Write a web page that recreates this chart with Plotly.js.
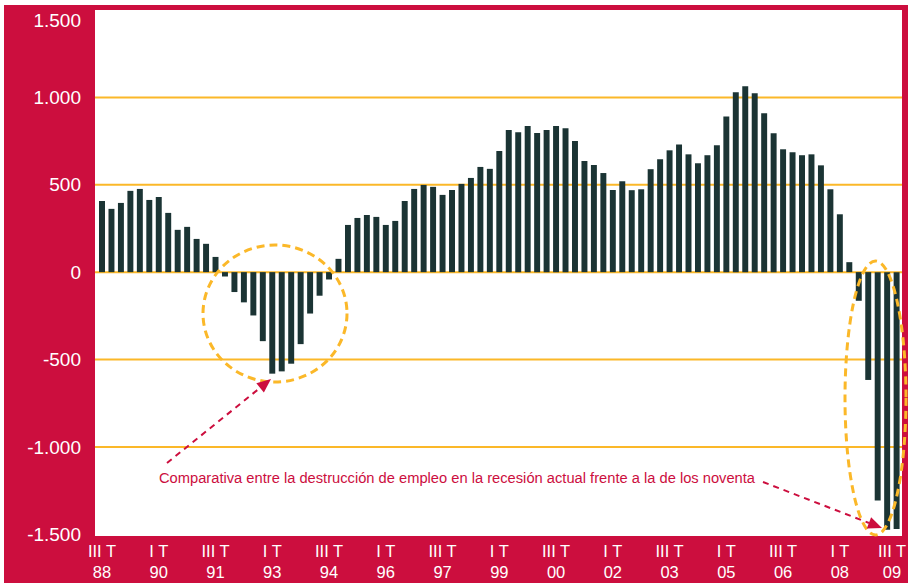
<!DOCTYPE html>
<html>
<head>
<meta charset="utf-8">
<script src="https://cdn.plot.ly/plotly-3.0.1.min.js"></script>
<style>html,body{margin:0;padding:0;background:#fff;}#chart{width:908px;height:585px;}</style>
</head>
<body>
<div id="chart"></div>
<script>
// Quarterly employment change (thousands), III T 1988 .. III T 2009
const startYear = 1988, startQuarter = 3, endYear = 2009, endQuarter = 3;
const romans = ['I', 'II', 'III', 'IV'];

const values = [
  407, 362, 396, 465, 476, 413, 430, 339, 242, 259, 190, 162, 87,
  -25, -114, -173, -248, -395, -581, -568, -524, -412, -237, -135, -42,
  76, 270, 310, 327,
  316, 270, 293, 407, 476, 499, 488, 442, 470, 505, 539, 602, 591, 693, 813, 801,
  836, 796, 813, 836, 824, 750, 636, 613, 567, 470,
  520, 469, 474, 589, 646, 697, 731, 674, 623, 669, 726, 891, 1029, 1063, 1023,
  909, 794, 703, 686, 669, 674, 611, 474, 331, 57,
  -164, -617, -1307, -1474, -1470
];

const xTickLines1 = ['III T', 'I T', 'III T', 'I T', 'III T', 'I T', 'III T', 'I T',
  'III T', 'I T', 'III T', 'I T', 'III T', 'I T', 'III T'];
const xTickLines2 = ['88', '90', '91', '93', '94', '96', '97', '99', '00', '02', '03',
  '05', '06', '08', '09'];
const yTickVals = [-1500, -1000, -500, 0, 500, 1000];
const yTickText = ['-1.500', '-1.000', '-500', '0', '500', '1.000'];
const yTopTickVals = [1500];
const yTopTickText = ['1.500'];
const gridVals = [-1000, -500, 0, 500, 1000];
const note = 'Comparativa entre la destrucción de empleo en la recesión actual frente a la de los noventa';

// build quarter categories
const quarters = [];
for (let y = startYear, q = startQuarter; y < endYear || (y === endYear && q <= endQuarter);) {
  quarters.push(romans[q - 1] + ' T ' + String(y).slice(2));
  q++; if (q > 4) { q = 1; y++; }
}
const tickCats = quarters.filter((_, i) => i % 6 === 0);
// last label is nudged left (as in the original) so it stays inside the frame
const NB = '\u00a0\u00a0';
const xTickText = xTickLines1.map((a, i) => i === xTickLines1.length - 1
  ? a + NB + '<br>' + xTickLines2[i] + NB
  : a + '<br>' + xTickLines2[i]);

const CRIMSON = '#cc0e3e';
const ORANGE = '#fbb829';
const BAR = '#1b3434';
const FONT = 'Liberation Sans, Arial, sans-serif';

const W = 908, H = 585;
const M = {l: 95, r: 6, t: 10, b: 49};
const PW = W - M.l - M.r, PH = H - M.t - M.b;
const px = v => (v - M.l) / PW;
const py = v => (H - M.b - v) / PH;

const shapes = [];
gridVals.forEach(v => shapes.push({
  type: 'line', xref: 'paper', yref: 'y', x0: 0, x1: 1, y0: v, y1: v,
  line: {color: ORANGE, width: 2}, layer: 'below'
}));
// white outer border strips
shapes.push({type: 'rect', xref: 'paper', yref: 'paper', x0: px(0), x1: px(W), y0: py(5), y1: py(0),
  fillcolor: '#ffffff', line: {width: 0}, layer: 'above'});
shapes.push({type: 'rect', xref: 'paper', yref: 'paper', x0: px(0), x1: px(4), y0: py(H), y1: py(0),
  fillcolor: '#ffffff', line: {width: 0}, layer: 'above'});
shapes.push({type: 'rect', xref: 'paper', yref: 'paper', x0: px(0), x1: px(W), y0: py(H), y1: py(583),
  fillcolor: '#ffffff', line: {width: 0}, layer: 'above'});
// dashed ellipses
shapes.push({type: 'circle', xref: 'paper', yref: 'paper', x0: px(203), x1: px(347), y0: py(382), y1: py(245),
  line: {color: ORANGE, width: 3, dash: '8px,5px'}, layer: 'above'});
shapes.push({type: 'circle', xref: 'paper', yref: 'paper', x0: px(845), x1: px(906), y0: py(535), y1: py(261),
  line: {color: ORANGE, width: 3, dash: '8px,5px'}, layer: 'above'});
// arrows
function arrow(x0, y0, x1, y1) {
  const dx = x1 - x0, dy = y1 - y0, L = Math.hypot(dx, dy);
  const ux = dx / L, uy = dy / L, hl = 14, hw = 6;
  const bx = x1 - hl * ux, by = y1 - hl * uy;
  shapes.push({type: 'line', xref: 'paper', yref: 'paper', x0: px(x0), y0: py(y0), x1: px(bx), y1: py(by),
    line: {color: CRIMSON, width: 2, dash: '6px,5px'}, layer: 'above'});
  const c1x = bx - hw * uy, c1y = by + hw * ux, c2x = bx + hw * uy, c2y = by - hw * ux;
  shapes.push({type: 'path', xref: 'paper', yref: 'paper',
    path: `M ${px(x1)} ${py(y1)} L ${px(c1x)} ${py(c1y)} L ${px(c2x)} ${py(c2y)} Z`,
    fillcolor: CRIMSON, line: {width: 0}, layer: 'above'});
}
arrow(167, 463, 271, 379);
arrow(763, 482, 882, 528);

const trace = {
  type: 'bar', x: quarters, y: values,
  marker: {color: BAR, line: {width: 0}},
  hoverinfo: 'x+y'
};
const topAxisHelper = {
  type: 'scatter', mode: 'markers', x: [quarters[0]], y: [0], yaxis: 'y2',
  marker: {opacity: 0, size: 1}, hoverinfo: 'skip', showlegend: false
};

const yCommon = {
  range: [-1510, 1500],
  tickmode: 'array',
  ticks: '', showgrid: false, zeroline: false, showline: false,
  tickfont: {family: FONT, size: 19, color: '#ffffff'},
  ticklabelstandoff: 13, ticklabeloverflow: 'allow', fixedrange: true
};

const layout = {
  width: W, height: H,
  margin: M,
  paper_bgcolor: CRIMSON,
  plot_bgcolor: '#ffffff',
  showlegend: false,
  bargap: 0.37,
  xaxis: {
    type: 'category',
    range: [-0.74, 84.57],
    tickmode: 'array', tickvals: tickCats, ticktext: xTickText,
    ticks: '', showgrid: false, zeroline: false, showline: false,
    tickfont: {family: FONT, size: 16.5, color: '#ffffff'},
    ticklabelstandoff: 3, ticklabeloverflow: 'allow', fixedrange: true
  },
  yaxis: Object.assign({}, yCommon, {tickvals: yTickVals, ticktext: yTickText}),
  yaxis2: Object.assign({}, yCommon, {overlaying: 'y', side: 'left',
    tickvals: yTopTickVals, ticktext: yTopTickText, ticklabelshift: 10}),
  shapes: shapes,
  annotations: [{
    xref: 'paper', yref: 'paper', x: px(157), y: py(478), xanchor: 'left', yanchor: 'middle',
    text: note, showarrow: false,
    font: {family: FONT, size: 14.7, color: CRIMSON}
  }]
};

Plotly.newPlot('chart', [trace, topAxisHelper], layout, {displayModeBar: false, staticPlot: true});
</script>
</body>
</html>
